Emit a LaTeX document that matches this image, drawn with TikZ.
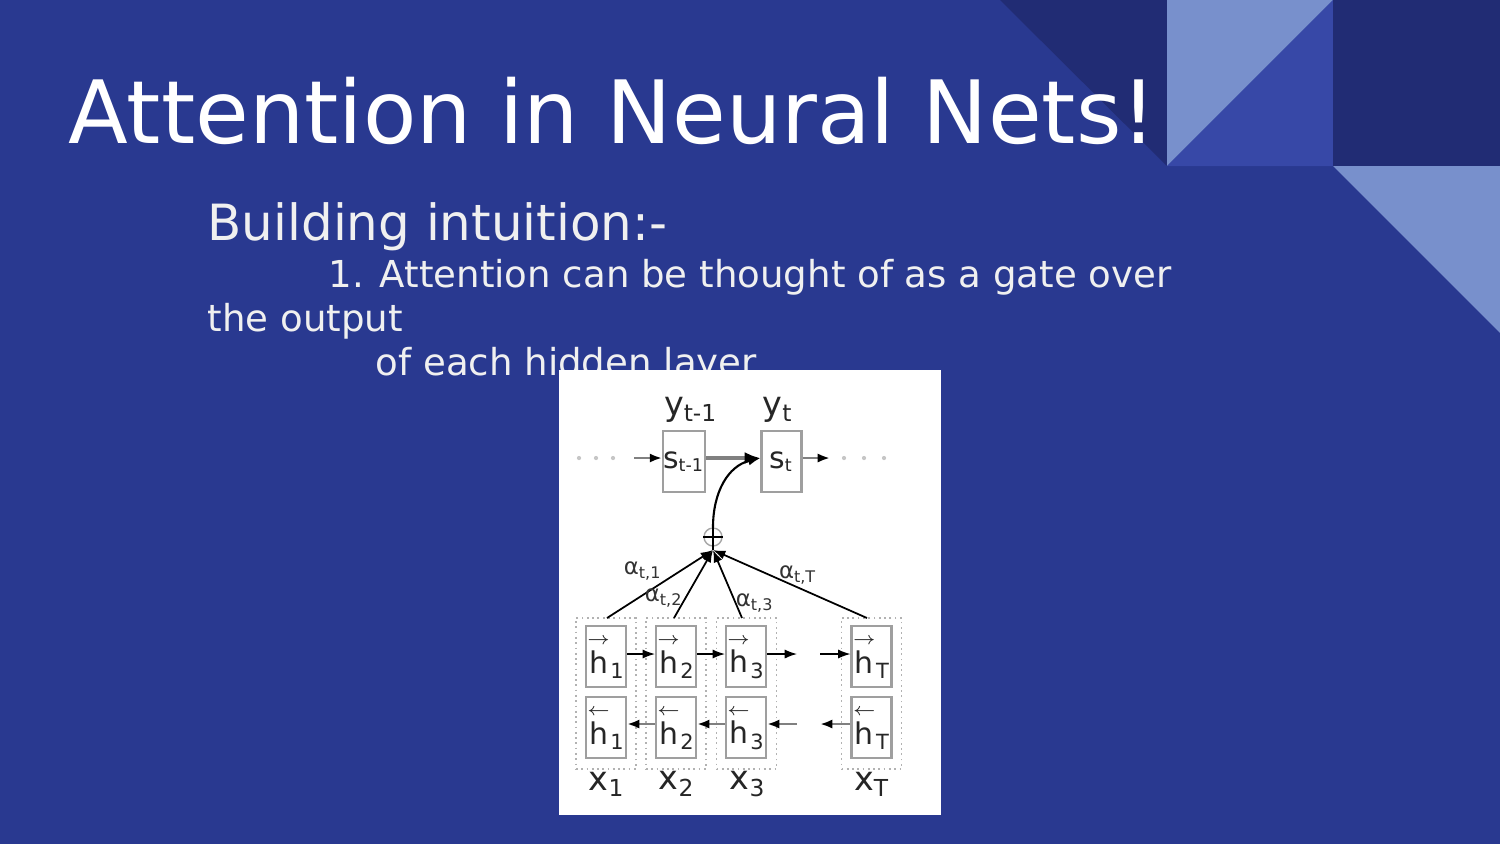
\documentclass[tikz,border=0pt]{standalone}
\usepackage{amsmath}
\usepackage{xcolor}
\usepackage{fontspec}
\setmainfont{DejaVu Sans}
\usepackage{tikz}
\usetikzlibrary{arrows.meta}

\definecolor{slidebg}{HTML}{293990}
\definecolor{darkblue}{HTML}{212C74}
\definecolor{midblue}{HTML}{3748A7}
\definecolor{lightblue}{HTML}{7890CC}
\definecolor{offwhite}{HTML}{F0F0F0}

\newcommand{\hfw}[1]{$\overset{\scriptscriptstyle\rightarrow}{\text{h}}_{\text{#1}}$}
\newcommand{\hbw}[1]{$\overset{\scriptscriptstyle\leftarrow}{\text{h}}_{\text{#1}}$}

\begin{document}
\begin{tikzpicture}[x=0.1mm, y=-0.1mm, >={Latex[length=3.5pt,width=2.6pt]},
    hbox/.style={draw=gray!75, line width=0.6pt, minimum width=4mm, minimum height=6.1mm,
      inner sep=0pt, text=black!85, font=\fontsize{8.5}{9}\selectfont},
    grp/.style={draw=gray!60, densely dotted, line width=0.5pt, minimum width=6mm,
      minimum height=15.1mm, inner sep=0pt},
    lbl/.style={inner sep=0pt, text=black!85, font=\fontsize{9.5}{10}\selectfont},
    alab/.style={inner sep=0pt, text=black!80, font=\fontsize{6.5}{7}\selectfont},
    slidetext/.style={anchor=base west, inner sep=0pt, text=offwhite}]
    % Background
    \fill[slidebg] (0,0) rectangle (1500,844);
    \useasboundingbox (0,0) rectangle (1500,844);

    % Corner triangles
    \fill[darkblue] (1000,0) -- (1167,0) -- (1167,166) -- cycle;
    \fill[lightblue] (1167,0) -- (1333,0) -- (1167,166) -- cycle;
    \fill[midblue] (1333,0) -- (1333,166) -- (1167,166) -- cycle;
    \fill[darkblue] (1333,0) rectangle (1500,166);
    \fill[lightblue] (1333,166) -- (1500,166) -- (1500,333) -- cycle;

    % Title and bullet text
    \node[slidetext, text=white, font=\fontsize{24.85}{30}\selectfont] (title) at (68,143) {Attention in Neural Nets!};
    \node[slidetext, font=\fontsize{14.2}{17}\selectfont] (intro) at (207,240) {Building intuition:-};
    \node[slidetext, font=\fontsize{10.56}{13}\selectfont] (item1) at (328,287) {1. Attention can be thought of as a gate over};
    \node[slidetext, font=\fontsize{10.56}{13}\selectfont] (item2) at (207,331) {the output};
    \node[slidetext, font=\fontsize{10.56}{13}\selectfont] (item3) at (375,375) {of each hidden layer};

    % Figure panel
    \fill[white] (559,370) rectangle (941,815);

    % Decoder states
    \node[hbox] (s1) at (684,461.5) {s\textsubscript{\fontsize{5}{5}\selectfont t-1}};
    \node[hbox] (s2) at (781.5,461.5) {s\textsubscript{\fontsize{5}{5}\selectfont t}};
    \node[lbl] (y1) at (691,410) {y\textsubscript{t-1}};
    \node[lbl] (y2) at (778,410) {y\textsubscript{t}};
    \coordinate (inL) at (634,458);
    \coordinate (outR) at (830,458);
    \foreach \x in {579,596,613,844,864,884}
      \fill[gray!45] (\x,458) circle (0.6pt);
    \draw[gray, line width=0.8pt, -{Latex[black,length=3.5pt,width=2.6pt]}] (inL) -- (s1.west |- inL);
    \draw[gray, line width=1.1pt, -{Latex[black,length=4.5pt,width=3.4pt]}] (s1.east |- inL) -- (s2.west |- inL);
    \draw[gray, line width=0.8pt, -{Latex[black,length=3.5pt,width=2.6pt]}] (s2.east |- outR) -- (outR);

    % Weighted sum
    \coordinate (blob) at (713,550);
    \node[draw=gray!70, circle, minimum size=1.8mm, inner sep=0pt] (plus) at (713,537) {};
    \draw[line width=0.6pt] (plus.west) -- (plus.east);
    \draw[line width=0.6pt] (blob) -- (plus.north);
    \draw[line width=0.6pt, ->] (plus.north) .. controls (713,492) and (728,466) .. (s2.west |- inL);

    % Encoder columns
    \node[grp] (g1) at (606,693.5) {};
    \node[grp] (g2) at (676,693.5) {};
    \node[grp] (g3) at (746.5,693.5) {};
    \node[grp] (gT) at (871.5,693.5) {};

    \node[hbox] (hf1) at (606,656.5) {\hfw{1}};
    \node[hbox] (hf2) at (676,656.5) {\hfw{2}};
    \node[hbox] (hf3) at (746,656.5) {\hfw{3}};
    \node[hbox] (hfT) at (871.5,656.5) {\hfw{T}};
    \node[hbox] (hb1) at (606,727.5) {\hbw{1}};
    \node[hbox] (hb2) at (676,727.5) {\hbw{2}};
    \node[hbox] (hb3) at (746,727.5) {\hbw{3}};
    \node[hbox] (hbT) at (871.5,727.5) {\hbw{T}};

    \node[lbl] (x1) at (607,784) {x\textsubscript{1}};
    \node[lbl] (x2) at (677,784) {x\textsubscript{2}};
    \node[lbl] (x3) at (748,784) {x\textsubscript{3}};
    \node[lbl] (xT) at (872,784) {x\textsubscript{T}};

    % Forward and backward links
    \coordinate (fe) at (797,654);
    \coordinate (fs) at (820,654);
    \coordinate (bs) at (797,724);
    \coordinate (be) at (820,724);
    \draw[line width=0.4pt, ->] (hf1.east |- fe) -- (hf2.west |- fe);
    \draw[line width=0.4pt, ->] (hf2.east |- fe) -- (hf3.west |- fe);
    \draw[line width=0.4pt, ->] (hf3.east |- fe) -- (fe);
    \draw[line width=0.4pt, ->] (fs) -- (hfT.west |- fs);
    \draw[gray, line width=0.7pt, -{Latex[black,length=3.5pt,width=2.6pt]}] (hb2.west |- bs) -- (hb1.east |- bs);
    \draw[gray, line width=0.7pt, -{Latex[black,length=3.5pt,width=2.6pt]}] (hb3.west |- bs) -- (hb2.east |- bs);
    \draw[gray, line width=0.7pt, -{Latex[black,length=3.5pt,width=2.6pt]}] (bs) -- (hb3.east |- bs);
    \draw[gray, line width=0.7pt, -{Latex[black,length=3.5pt,width=2.6pt]}] (hbT.west |- be) -- (be);

    % Attention weights
    \draw[line width=0.5pt, ->] (607,618) -- (blob);
    \draw[line width=0.5pt, ->] (674,618) -- (blob);
    \draw[line width=0.5pt, ->] (742,618) -- (blob);
    \draw[line width=0.5pt, ->] (867,618) -- (blob);
    \node[alab] (a1) at (643,571) {α\textsubscript{t,1}};
    \node[alab] (a2) at (664,598) {α\textsubscript{t,2}};
    \node[alab] (a3) at (755,603) {α\textsubscript{t,3}};
    \node[alab] (aT) at (798,575) {α\textsubscript{t,T}};
\end{tikzpicture}
\end{document}
